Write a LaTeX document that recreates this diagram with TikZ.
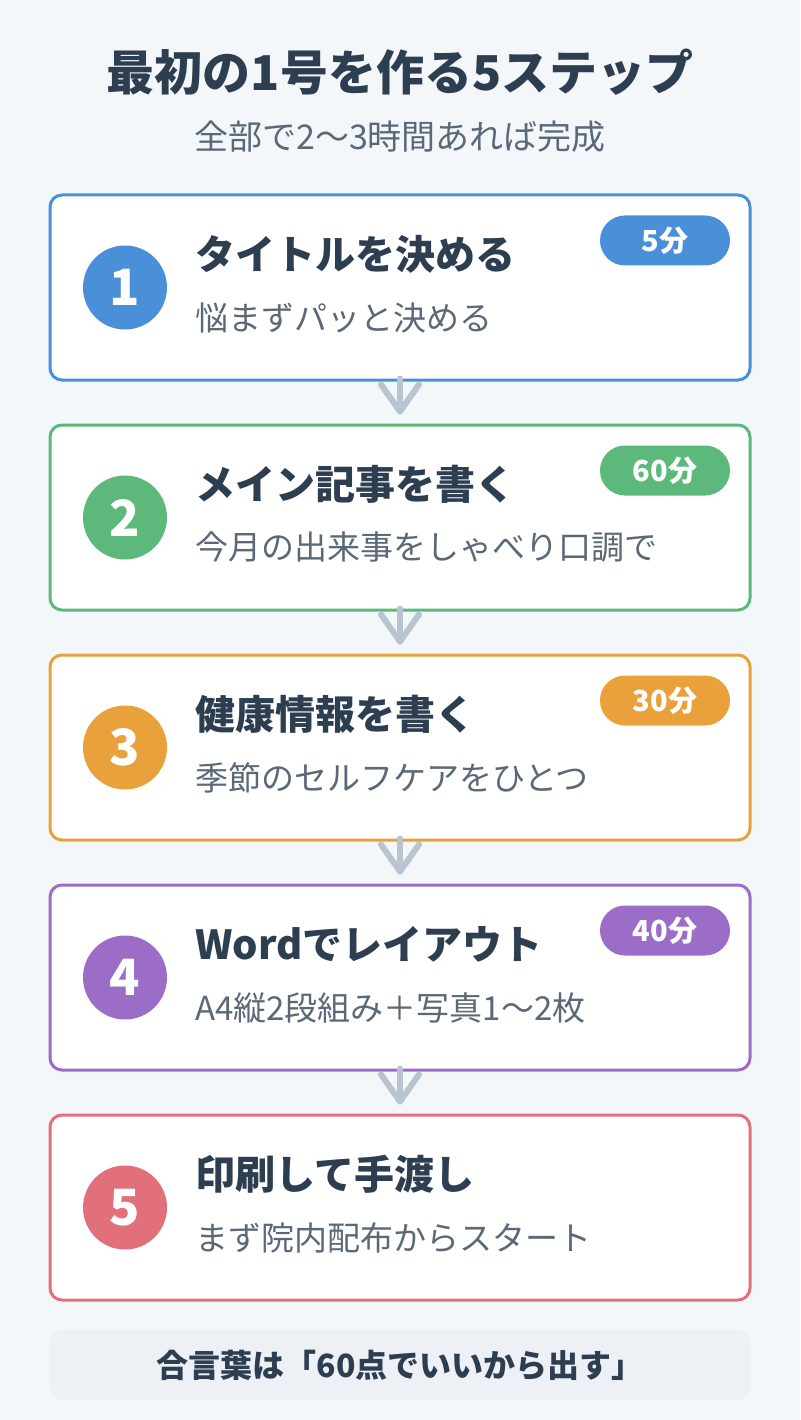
\documentclass[tikz,border=0pt]{standalone}
\usepackage{fontspec}
\setmainfont{Noto Sans CJK JP}
\usetikzlibrary{calc}
\definecolor{bg}{HTML}{F4F7FA}
\definecolor{dark}{HTML}{2C3E50}
\definecolor{sub}{HTML}{5A6878}
\definecolor{cblue}{HTML}{4A90D9}
\definecolor{cgreen}{HTML}{5DB97B}
\definecolor{corange}{HTML}{E9A23B}
\definecolor{cpurple}{HTML}{9B6DC6}
\definecolor{cred}{HTML}{E2707A}
\definecolor{arrowc}{HTML}{B8C4D0}
\definecolor{notebg}{HTML}{EDF1F6}
\tikzset{
  card/.style={draw=#1, line width=3pt, fill=white, rounded corners=12pt, minimum width=700pt, minimum height=185pt, inner sep=0pt},
  numcirc/.style={circle, fill=#1, minimum size=84pt, inner sep=0pt, text=white, font=\fontsize{50}{52}\selectfont\bfseries},
  badge/.style={fill=#1, rounded corners=25pt, minimum width=130pt, minimum height=50pt, inner sep=0pt, text=white, font=\fontsize{29}{31}\selectfont\bfseries},
  ctitle/.style={anchor=west, text=dark, inner sep=0pt, font=\fontsize{40}{44}\selectfont\bfseries},
  csub/.style={anchor=west, text=sub, inner sep=0pt, font=\fontsize{33}{37}\selectfont},
  chev/.style={draw=arrowc, line width=6pt, line cap=round, line join=round}
}
\begin{document}
\begin{tikzpicture}[x=1pt, y=-1pt]
\fill[bg] (0,0) rectangle (800,1420);
\useasboundingbox (0,0) rectangle (800,1420);
\node[text=dark, font=\fontsize{48}{52}\selectfont\bfseries] (title) at (400,72) {最初の1号を作る5ステップ};
\node[text=sub, font=\fontsize{34}{38}\selectfont] (subtitle) at (400,137) {全部で2〜3時間あれば完成};
% cards
\foreach \i/\c/\t/\s [count=\k from 0] in {
  1/cblue/タイトルを決める/悩まずパッと決める,
  2/cgreen/メイン記事を書く/今月の出来事をしゃべり口調で,
  3/corange/健康情報を書く/季節のセルフケアをひとつ,
  4/cpurple/Wordでレイアウト/A4縦2段組み＋写真1〜2枚,
  5/cred/印刷して手渡し/まず院内配布からスタート}{
  \pgfmathsetmacro{\yy}{287.5+230*\k}
  \node[card=\c] (card\i) at (400,\yy) {};
  \node[numcirc=\c] (num\i) at (125,\yy) {\i};
  \node[ctitle] (title\i) at (195,\yy-33) {\t};
  \node[csub] (sub\i) at (195,\yy+30) {\s};
}
\node[badge=cblue] (badge1) at (665,240.5) {5分};
\node[badge=cgreen] (badge2) at (665,470.5) {60分};
\node[badge=corange] (badge3) at (665,700.5) {30分};
\node[badge=cpurple] (badge4) at (665,930.5) {40分};
% arrows
\foreach \a/\b in {1/2,2/3,3/4,4/5}{
  \coordinate (s\a) at ($(card\a.south)+(0,-3)$);
  \coordinate (e\a) at ($(card\b.north)+(0,-12)$);
  \draw[chev] (s\a) -- (e\a);
  \draw[chev] ($(e\a)+(-19,-27)$) -- (e\a) -- ($(e\a)+(19,-27)$);
}
\node[fill=notebg, rounded corners=12pt, minimum width=700pt, minimum height=70pt, inner sep=0pt, text=dark, font=\fontsize{32}{36}\selectfont\bfseries] (note) at (400,1365) {合言葉は「60点でいいから出す」};
\end{tikzpicture}
\end{document}
